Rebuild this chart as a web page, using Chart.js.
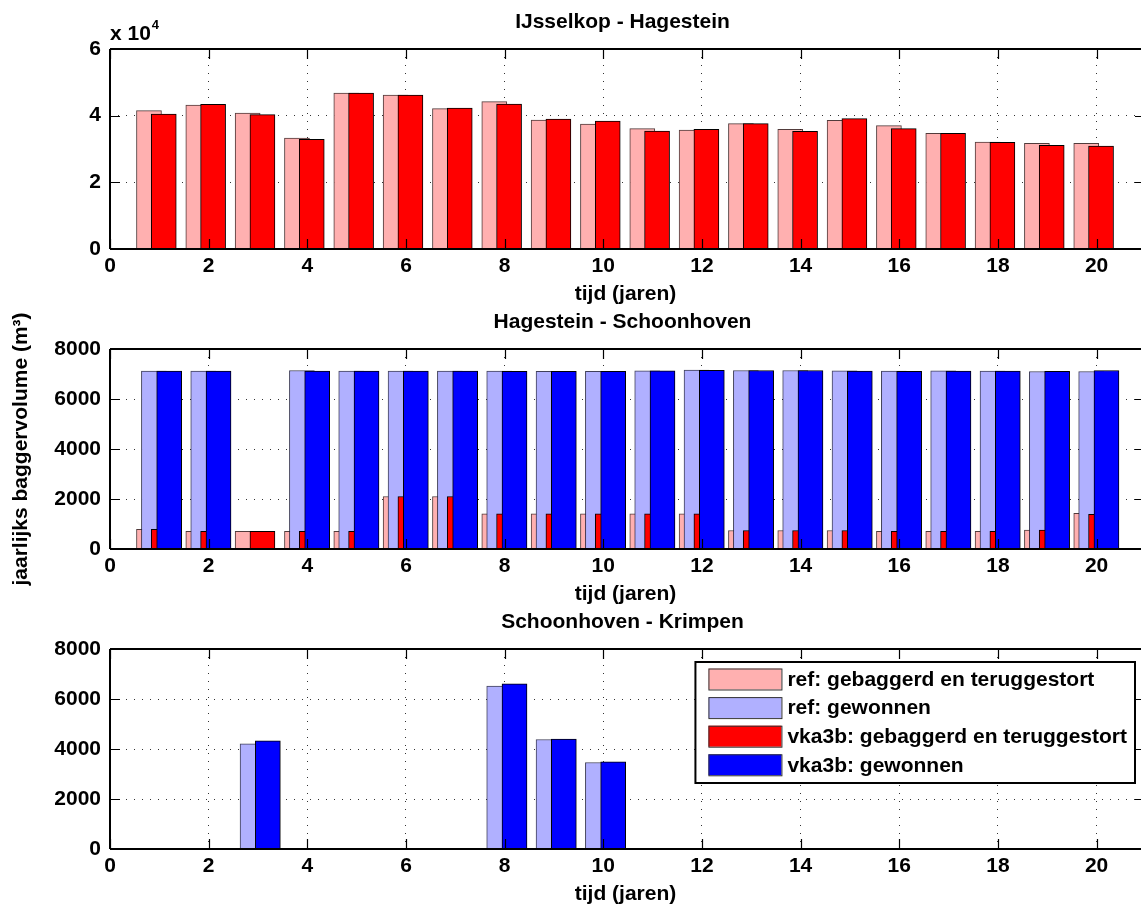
<!DOCTYPE html>
<html><head><meta charset="utf-8">
<script src="https://cdn.jsdelivr.net/npm/chart.js@4/dist/chart.umd.min.js"></script>
<style>
html,body{margin:0;padding:0;background:#fff;width:1141px;height:909px;overflow:hidden;}
.p{position:absolute;left:0;width:1141px;height:320px;}
canvas{display:block;}
</style></head><body>
<div class="p" style="top:0px"><canvas id="c1" width="1141" height="320"></canvas></div>
<div class="p" style="top:300px"><canvas id="c2" width="1141" height="320"></canvas></div>
<div class="p" style="top:600px"><canvas id="c3" width="1141" height="320"></canvas></div>
<script>
// ---------- data ----------
const years = [1,2,3,4,5,6,7,8,9,10,11,12,13,14,15,16,17,18,19,20];
const xTickValues = [0,2,4,6,8,10,12,14,16,18,20];
const yTicksIJssel = [0,20000,40000,60000];
const yTicksVolume = [0,2000,4000,6000,8000];

const panelTitles = ['IJsselkop - Hagestein','Hagestein - Schoonhoven','Schoonhoven - Krimpen'];
const xAxisLabel = 'tijd (jaren)';
const yAxisLabel = 'jaarlijks baggervolume (m³)';

// IJsselkop - Hagestein
const ijsselRefGeb = [41500,43200,40800,33300,46800,46200,42100,44200,38700,37500,36100,35700,37600,35900,38600,37000,34700,32100,31700,31700];
const ijsselVkaGeb = [40500,43400,40300,32900,46800,46200,42300,43500,39000,38400,35400,35900,37600,35300,39100,36100,34700,32000,31100,30900];

// Hagestein - Schoonhoven
const schoonRefGeb = [790,710,710,710,710,2100,2100,1410,1410,1410,1410,1410,740,740,740,710,710,710,760,1430];
const schoonRefGew = [7120,7120,0,7140,7120,7120,7120,7120,7110,7110,7130,7160,7140,7140,7130,7120,7130,7120,7100,7100];
const schoonVkaGeb = [790,710,710,710,710,2100,2100,1410,1410,1410,1410,1410,740,740,740,710,710,710,760,1390];
const schoonVkaGew = [7120,7120,0,7120,7120,7120,7120,7110,7110,7110,7130,7150,7140,7140,7120,7110,7120,7120,7110,7140];

// Schoonhoven - Krimpen
const krimpRefGeb = [0,0,0,0,0,0,0,0,0,0,0,0,0,0,0,0,0,0,0,0];
const krimpRefGew = [0,0,4210,0,0,0,0,6520,4380,3460,0,0,0,0,0,0,0,0,0,0];
const krimpVkaGeb = [0,0,0,0,0,0,0,0,0,0,0,0,0,0,0,0,0,0,0,0];
const krimpVkaGew = [0,0,4330,0,0,0,0,6610,4400,3490,0,0,0,0,0,0,0,0,0,0];

// ---------- styles ----------
const FONT = '"Liberation Sans", Arial, sans-serif';
const FS = 21;
Chart.defaults.font.family = FONT;
Chart.defaults.font.size = FS;
Chart.defaults.font.weight = 'bold';
Chart.defaults.color = '#000';

const SERIES = {
  refGeb: {label:'ref: gebaggerd en teruggestort', bg:'#FFB0B0', border:'rgba(50,25,25,0.85)', order:4, off:-0.21},
  refGew: {label:'ref: gewonnen', bg:'#B0B0FF', border:'rgba(30,30,60,0.85)', order:3, off:-0.11},
  vkaGeb: {label:'vka3b: gebaggerd en teruggestort', bg:'#FF0000', border:'#000', order:2, off:0.09},
  vkaGew: {label:'vka3b: gewonnen', bg:'#0000FF', border:'#000', order:1, off:0.20}
};

function ds(key, vals){
  const s = SERIES[key];
  return {
    label: s.label,
    data: years.map((yr,i)=>({x: yr + s.off, y: vals[i]})),
    backgroundColor: s.bg,
    borderColor: s.border,
    borderWidth: 1,
    borderSkipped: 'start',
    grouped: false,
    barThickness: 25,
    order: s.order
  };
}

const framePlugin = {
  id: 'frame',
  afterDatasetsDraw(chart){
    const {ctx, chartArea:a, scales} = chart;
    ctx.save();
    ctx.strokeStyle = '#000';
    ctx.lineWidth = 1.2;
    ctx.beginPath();
    for (const v of xTickValues){
      const px = Math.round(scales.x.getPixelForValue(v)) + 0.5;
      ctx.moveTo(px, a.bottom); ctx.lineTo(px, a.bottom - 10);
      ctx.moveTo(px, a.top); ctx.lineTo(px, a.top + 10);
    }
    for (const t of scales.y.ticks){
      const py = Math.round(scales.y.getPixelForValue(t.value)) + 0.5;
      ctx.moveTo(a.left, py); ctx.lineTo(a.left + 10, py);
      ctx.moveTo(a.right, py); ctx.lineTo(a.right - 6, py);
    }
    ctx.stroke();
    ctx.lineWidth = 2;
    ctx.beginPath();
    ctx.moveTo(a.left, a.top); ctx.lineTo(a.left, a.bottom);
    ctx.moveTo(a.left, a.top); ctx.lineTo(a.right, a.top);
    ctx.moveTo(a.left, a.bottom); ctx.lineTo(a.right, a.bottom);
    ctx.stroke();
    // title
    ctx.fillStyle = '#000';
    ctx.font = 'bold ' + FS + 'px ' + FONT;
    ctx.textAlign = 'center';
    ctx.textBaseline = 'middle';
    ctx.fillText(chart.options.plugins.frame.title, (a.left + a.right)/2 - 3, 22);
    if (chart.options.plugins.frame.exponent){
      ctx.textAlign = 'left';
      const base = 'x 10';
      ctx.fillText(base, a.left, 34);
      const bw = ctx.measureText(base).width;
      ctx.font = 'bold 13px ' + FONT;
      ctx.fillText('4', a.left + bw + 1, 25);
    }
    ctx.restore();
  }
};

const legendPlugin = {
  id: 'boxlegend',
  afterDraw(chart){
    if (!chart.options.plugins.boxlegend.show) return;
    const {ctx, chartArea:a} = chart;
    ctx.save();
    ctx.font = 'bold ' + FS + 'px ' + FONT;
    const items = chart.data.datasets;
    let tw = 0;
    for (const d of items) tw = Math.max(tw, ctx.measureText(d.label).width);
    const swW = 73, swH = 21, padL = 13, gap = 6, padR = 8, rowH = 28.6;
    const w = padL + swW + gap + tw + padR;
    const h = 121;
    const right = a.right - 6;
    const left = right - w;
    const top = a.top + 13;
    ctx.fillStyle = '#fff';
    ctx.fillRect(left, top, w, h);
    ctx.strokeStyle = '#000';
    ctx.lineWidth = 2;
    ctx.strokeRect(left, top, w, h);
    ctx.textBaseline = 'middle';
    ctx.textAlign = 'left';
    items.forEach((d,i)=>{
      const cy = top + 17 + i*rowH;
      ctx.fillStyle = d.backgroundColor;
      ctx.fillRect(left + padL, cy - swH/2, swW, swH);
      ctx.lineWidth = 1;
      ctx.strokeStyle = '#333';
      ctx.strokeRect(left + padL + 0.5, cy - swH/2 + 0.5, swW, swH);
      ctx.fillStyle = '#000';
      ctx.fillText(d.label, left + padL + swW + gap, cy + 1);
    });
    ctx.restore();
  }
};

function makePanel(id, datasets, yMax, yTicks, opts){
  return new Chart(document.getElementById(id), {
    type: 'bar',
    data: { datasets },
    plugins: [framePlugin, legendPlugin],
    options: {
      responsive: false,
      animation: false,
      layout: { padding: { top: 49, right: 0, bottom: 0, left: 0 } },
      plugins: {
        legend: { display: false },
        tooltip: { enabled: false },
        frame: { title: opts.title, exponent: !!opts.exponent },
        boxlegend: { show: !!opts.legend }
      },
      scales: {
        x: {
          type: 'linear',
          min: 0, max: 20.9,
          offset: false,
          afterBuildTicks: s => { s.ticks = xTickValues.map(v => ({value: v})); },
          afterFit: s => { s.height = 71; },
          ticks: { padding: 5, maxRotation: 0, autoSkip: false, font: {size: FS, weight:'bold'} },
          grid: { display: true, offset: false, color: 'rgba(0,0,0,0.8)', lineWidth: 1, drawTicks: false },
          border: { display: false, dash: [1, 7] },
          title: { display: true, text: xAxisLabel, padding: {top: 0, bottom: 13}, font: {size: FS, weight:'bold'} }
        },
        y: {
          type: 'linear',
          min: 0, max: yMax,
          afterBuildTicks: s => { s.ticks = yTicks.map(v => ({value: v})); },
          afterFit: s => { s.width = 110; },
          ticks: { padding: 9, font: {size: FS, weight:'bold'}, callback: opts.tickFmt || (v => String(v)) },
          grid: { display: true, color: 'rgba(0,0,0,0.8)', lineWidth: 1, drawTicks: false },
          border: { display: false, dash: [1, 7] },
          title: { display: !!opts.yTitle, text: yAxisLabel, padding: {top: 9, bottom: 0}, font: {size: FS, weight:'bold'} }
        }
      }
    }
  });
}

makePanel('c1', [ds('refGeb', ijsselRefGeb), ds('vkaGeb', ijsselVkaGeb)], 60000, yTicksIJssel,
  {title: panelTitles[0], exponent: true, tickFmt: v => String(v/10000)});
makePanel('c2', [ds('refGeb', schoonRefGeb), ds('refGew', schoonRefGew), ds('vkaGeb', schoonVkaGeb), ds('vkaGew', schoonVkaGew)], 8000, yTicksVolume,
  {title: panelTitles[1], yTitle: true});
makePanel('c3', [ds('refGeb', krimpRefGeb), ds('refGew', krimpRefGew), ds('vkaGeb', krimpVkaGeb), ds('vkaGew', krimpVkaGew)], 8000, yTicksVolume,
  {title: panelTitles[2], legend: true});
</script>
</body></html>
